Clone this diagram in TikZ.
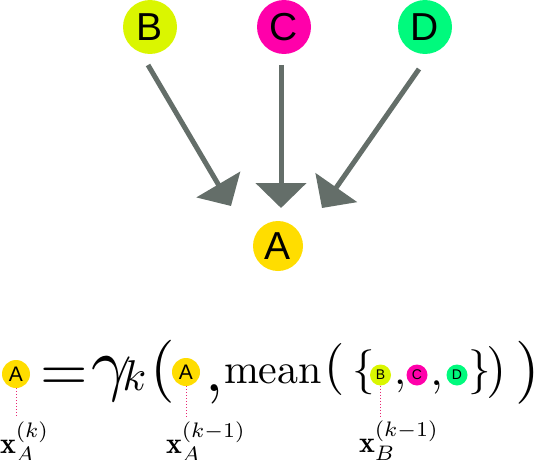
\documentclass[tikz,border=0pt]{standalone}
\usepackage{graphicx}
\usepackage{fontspec}
\newfontfamily\lsans{Liberation Sans}
\usetikzlibrary{arrows.meta}
\definecolor{ayellow}{RGB}{255,221,0}
\definecolor{bcol}{RGB}{218,246,0}
\definecolor{ccol}{RGB}{255,0,170}
\definecolor{dcol}{RGB}{0,250,125}
\definecolor{arrowgray}{RGB}{100,110,105}
\definecolor{dotpink}{RGB}{232,40,115}
\tikzset{
  bigcirc/.style={circle, minimum size=54pt, inner sep=0pt, font=\lsans\fontsize{39}{39}\selectfont},
  smallcirc/.style={circle, minimum size=28pt, inner sep=0pt, font=\lsans\fontsize{21}{21}\selectfont},
  tinycirc/.style={circle, minimum size=21pt, inner sep=0pt, font=\lsans\fontsize{14}{14}\selectfont},
  eq/.style={inner sep=0pt, outer sep=0pt},
  link/.style={draw=arrowgray, line width=5pt, -{Triangle[length=25pt,width=50pt]}},
  dotline/.style={draw=dotpink, line width=1pt, dash pattern=on 1pt off 2pt}
}
\begin{document}
\begin{tikzpicture}[x=1pt,y=-1pt]
\useasboundingbox (0,0) rectangle (538,460);
% graph
\node[bigcirc, fill=bcol] (B) at (150,27) {B};
\node[bigcirc, fill=ccol] (C) at (284,27) {C};
\node[bigcirc, fill=dcol] (D) at (425,27) {D};
\node[bigcirc, minimum size=50pt, fill=ayellow] (A) at (278,246) {A};
\coordinate (bs) at (148,65);
\coordinate (bt) at (231,206);
\coordinate (cs) at (281,65);
\coordinate (ct) at (281,208);
\coordinate (ds) at (419,69);
\coordinate (dt) at (322,208);
\draw[link] (bs) -- (bt);
\draw[link] (cs) -- (ct);
\draw[link] (ds) -- (dt);
% equation
\node[smallcirc, fill=ayellow] (a1) at (16,374) {A};
\node[eq, anchor=base west] (eqsign) at (40,390) {\scalebox{6.1}{$=$}};
\node[eq, anchor=base west] (gam) at (91.5,387.5) {\scalebox{7.1}{$\gamma$}};
\node[eq, anchor=base west] (subk) at (122.5,390) {\scalebox{4.3}{$k$}};
\node[eq] (lp1) at (163,371.5) {\scalebox{6.3}{$($}};
\node[smallcirc, fill=ayellow] (a2) at (186,372) {A};
\node[eq] (cm1) at (215,394) {\scalebox{6.5}{$,$}};
\node[eq, anchor=base west] (mean) at (224,383) {\scalebox{4.2}{mean}};
\node[eq] (lp2) at (335,369) {\scalebox{5.2}{$($}};
\node[eq] (lbr) at (363.5,372.5) {\scalebox{4.5}{$\{$}};
\node[tinycirc, fill=bcol] (b2) at (380.5,375) {B};
\node[eq] (cm2) at (400,386.5) {\scalebox{4.3}{$,$}};
\node[tinycirc, fill=ccol] (c2) at (417,375) {C};
\node[eq] (cm3) at (436.5,387.5) {\scalebox{4.5}{$,$}};
\node[tinycirc, fill=dcol] (d2) at (457,375) {D};
\node[eq] (rbr) at (479.5,372.5) {\scalebox{4.5}{$\}$}};
\node[eq] (rp2) at (497,372.5) {\scalebox{5.2}{$)$}};
\node[eq] (rp1) at (527.5,372.5) {\scalebox{6.3}{$)$}};
% labels
\node[eq, anchor=base west] (la1) at (0,453) {\scalebox{3}{$\mathbf{x}_A^{(k)}$}};
\node[eq, anchor=base west] (la2) at (166,453) {\scalebox{3}{$\mathbf{x}_A^{(k-1)}$}};
\node[eq, anchor=base west] (lb3) at (359,452) {\scalebox{3}{$\mathbf{x}_B^{(k-1)}$}};
\coordinate (e1) at (16,418);
\coordinate (e2) at (186,418);
\coordinate (e3) at (380.5,418);
\draw[dotline] (a1.south) -- (e1);
\draw[dotline] (a2.south) -- (e2);
\draw[dotline] (b2.south) -- (e3);
\end{tikzpicture}
\end{document}
